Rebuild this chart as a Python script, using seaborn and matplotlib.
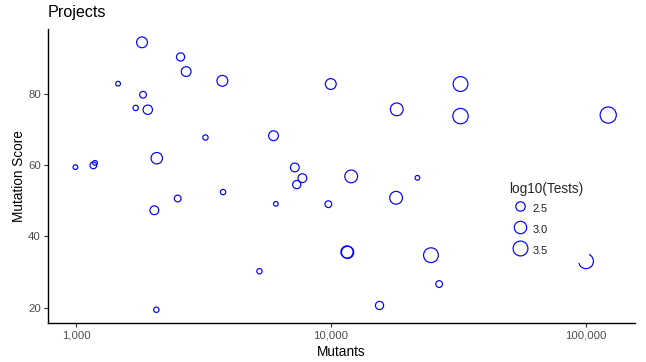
import numpy as np
import pandas as pd
import matplotlib
matplotlib.use("Agg")
import matplotlib.pyplot as plt
from matplotlib.lines import Line2D
from matplotlib.ticker import FixedLocator, FuncFormatter, NullLocator
import seaborn as sns

# Project-level data: mutant count, mutation score and log10 of test count
mutants = [994, 1169, 1187, 1462, 1815, 1832, 1714, 1912, 2074, 2571,
           2705, 3220, 3752, 2029, 2506, 3776, 2066, 5248, 5957, 6084,
           7224, 7735, 7350, 9996, 9780, 12020, 11570, 11640, 18150, 18040,
           21870, 15530, 24720, 26620, 32290, 32290, 122700, 100400]
mutation_score = [59.4, 59.9, 60.6, 82.8, 94.4, 79.7, 76.0, 75.5, 61.9, 90.3,
                  86.2, 67.7, 83.6, 47.3, 50.6, 52.4, 19.4, 30.2, 68.2, 49.1,
                  59.3, 56.3, 54.5, 82.7, 49.0, 56.8, 35.6, 35.5, 75.6, 50.8,
                  56.4, 20.6, 34.7, 26.6, 82.7, 73.7, 74.0, 33.0]
log_tests = [1.89, 2.18, 1.92, 1.97, 2.72, 2.18, 2.05, 2.50, 2.82, 2.34,
             2.56, 2.05, 2.72, 2.42, 2.18, 2.05, 2.05, 2.05, 2.56, 1.97,
             2.42, 2.42, 2.34, 2.72, 2.18, 3.07, 2.96, 2.96, 3.07, 3.07,
             1.97, 2.34, 3.49, 2.18, 3.49, 3.63, 3.82, 3.49]

legend_values = [2.5, 3.0, 3.5]
x_ticks = [1000, 10000, 100000]
y_ticks = [20, 40, 60, 80]

df = pd.DataFrame({"Mutants": mutants,
                   "Mutation Score": mutation_score,
                   "log10(Tests)": log_tests})

sns.set_style("ticks")
plt.rcParams["font.family"] = ["Liberation Sans", "DejaVu Sans"]

SIZE_NORM = (2.0, 4.0)
SIZE_RANGE = (11.4, 148.3)   # marker area in pt^2
LW = 0.85
COLOR = "#0000FF"


def marker_area(v):
    t = (v - SIZE_NORM[0]) / (SIZE_NORM[1] - SIZE_NORM[0])
    return SIZE_RANGE[0] + t * (SIZE_RANGE[1] - SIZE_RANGE[0])


fig = plt.figure(figsize=(6.46, 3.62), dpi=100)
ax = fig.add_axes([48 / 646, 1 - 323.3 / 362, (635 - 48) / 646, (323.3 - 29.3) / 362])

sns.scatterplot(data=df, x="Mutants", y="Mutation Score", size="log10(Tests)",
                sizes=SIZE_RANGE, size_norm=SIZE_NORM, ax=ax, legend=False,
                marker="o", facecolor="none", edgecolor=COLOR, linewidth=LW)

ax.set_xscale("log")
ax.set_xlim(776, 156300)
ax.set_ylim(15.6, 98.05)
ax.xaxis.set_major_locator(FixedLocator(x_ticks))
ax.xaxis.set_minor_locator(NullLocator())
ax.xaxis.set_major_formatter(FuncFormatter(lambda v, p: f"{int(round(v)):,}"))
ax.set_yticks(y_ticks)

for side in ["top", "right"]:
    ax.spines[side].set_visible(False)
for side in ["left", "bottom"]:
    ax.spines[side].set_linewidth(1.0)
    ax.spines[side].set_color("black")

ax.tick_params(axis="both", which="major", direction="out", length=3.0,
               width=0.8, color="#333333", labelcolor="#4D4D4D",
               labelsize=8.2, pad=2.2)

ax.set_xlabel("Mutants", fontsize=9.8, color="black", labelpad=3)
ax.set_ylabel("Mutation Score", fontsize=9.8, color="black", labelpad=1.5)
ax.set_title("Projects", loc="left", fontsize=11.6, color="black", pad=9)

handles = [Line2D([], [], linestyle="", marker="o", markerfacecolor="none",
                  markeredgecolor=COLOR, markeredgewidth=LW,
                  markersize=np.sqrt(marker_area(v)))
           for v in legend_values]
labels = [f"{v:.1f}" for v in legend_values]
leg = ax.legend(handles, labels, title="log10(Tests)",
                loc="upper left", bbox_to_anchor=(504.5 / 646, 1 - 177 / 362),
                bbox_transform=fig.transFigure, borderaxespad=0,
                frameon=True, fancybox=False, framealpha=1,
                fontsize=7.8, title_fontsize=9.8, alignment="left",
                handlelength=1.9, handleheight=2.0, handletextpad=0.28,
                labelspacing=0.38, borderpad=0.45)
leg.get_frame().set_facecolor("white")
leg.get_frame().set_edgecolor("none")
for t in leg.get_texts():
    t.set_color("#1A1A1A")

fig.savefig("out.png", dpi=100)
